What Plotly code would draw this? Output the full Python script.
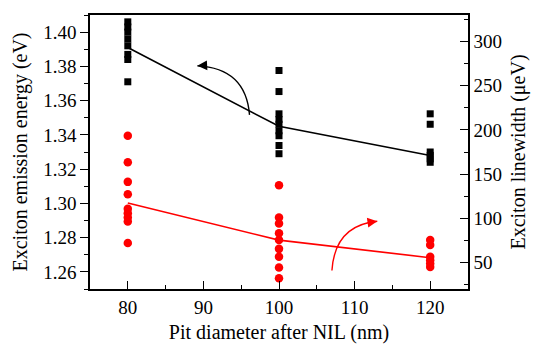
import plotly.graph_objects as go

# ---- data ----
pit_x = [80, 100, 120]
energy_80 = [1.406, 1.403, 1.400, 1.396, 1.392, 1.387, 1.384, 1.371]
energy_100 = [1.3776, 1.3653, 1.3523, 1.349, 1.3462, 1.3424, 1.3395, 1.3338, 1.329]
energy_120 = [1.3523, 1.3462, 1.330, 1.328, 1.326, 1.324]
energy_mean = [1.391, 1.345, 1.328]

width_80 = [193.3, 163.4, 141.2, 127.1, 110.8, 105.8, 100.8, 96.4, 72.0]
width_100 = [137.4, 100.8, 94.2, 83.1, 75.4, 65.4, 56.5, 44.4, 32.2]
width_120 = [75.4, 69.8, 56.5, 52.6, 48.8, 44.9]
width_mean = [117.4, 75.3, 55.4]

x_ticks = [80, 90, 100, 110, 120]
left_ticks = [1.26, 1.28, 1.30, 1.32, 1.34, 1.36, 1.38, 1.40]
right_ticks = [50, 100, 150, 200, 250, 300]

FONT = "'Liberation Serif', 'Times New Roman', Times, serif"

ex = [pit_x[0]] * len(energy_80) + [pit_x[1]] * len(energy_100) + [pit_x[2]] * len(energy_120)
ey = energy_80 + energy_100 + energy_120
wx = [pit_x[0]] * len(width_80) + [pit_x[1]] * len(width_100) + [pit_x[2]] * len(width_120)
wy = width_80 + width_100 + width_120

fig = go.Figure()
fig.add_trace(go.Scatter(x=pit_x, y=energy_mean, mode="lines",
                         line=dict(color="black", width=1.6), yaxis="y", showlegend=False))
fig.add_trace(go.Scatter(x=ex, y=ey, mode="markers",
                         marker=dict(symbol="square", size=7, color="black"),
                         yaxis="y", showlegend=False))
fig.add_trace(go.Scatter(x=pit_x, y=width_mean, mode="lines",
                         line=dict(color="#ff0000", width=1.6), yaxis="y2", showlegend=False))
fig.add_trace(go.Scatter(x=wx, y=wy, mode="markers",
                         marker=dict(symbol="circle", size=8.5, color="#ff0000"),
                         yaxis="y2", showlegend=False))

# curved arrows (decorations)
black_arrow = dict(tail=(96.1, 1.3517), ctrl=(95.6, 1.3790), head=(89.2, 1.3803))
red_arrow = dict(tail=(107.0, 41.0), ctrl=(107.4, 92.0), head=(113.0, 96.6))

def arc_path(a):
    (x0, y0), (cx, cy), (x1, y1) = a["tail"], a["ctrl"], a["head"]
    return f"M {x0},{y0} Q {cx},{cy} {x1},{y1}"

fig.add_shape(type="path", path=arc_path(black_arrow), xref="x", yref="y",
              line=dict(color="black", width=1.4))
fig.add_shape(type="path", path=arc_path(red_arrow), xref="x", yref="y2",
              line=dict(color="#ff0000", width=1.4))

fig.add_annotation(x=black_arrow["head"][0], y=black_arrow["head"][1],
                   ax=black_arrow["head"][0] + 1.2, ay=black_arrow["head"][1] + 0.0003,
                   xref="x", yref="y", axref="x", ayref="y", text="",
                   showarrow=True, arrowhead=2, arrowsize=1.4, arrowwidth=1.4, arrowcolor="black")
fig.add_annotation(x=red_arrow["head"][0], y=red_arrow["head"][1],
                   ax=red_arrow["head"][0] - 1.2, ay=red_arrow["head"][1] - 1.5,
                   xref="x", yref="y2", axref="x", ayref="y2", text="",
                   showarrow=True, arrowhead=2, arrowsize=1.4, arrowwidth=1.4, arrowcolor="#ff0000")

tickfont = dict(family=FONT, size=19, color="black")
titlefont = dict(family=FONT, size=20, color="black")

fig.update_layout(
    width=538, height=352,
    margin=dict(l=90, r=69, t=15, b=57),
    paper_bgcolor="white", plot_bgcolor="white",
    font=dict(family=FONT, color="black"),
    xaxis=dict(range=[75, 125], tickvals=x_ticks, ticks="inside", ticklen=8, tickwidth=1.3,
               tickcolor="black", showline=True, linecolor="black", linewidth=1.5, mirror=True,
               showgrid=False, zeroline=False, tickfont=tickfont,
               minor=dict(dtick=5, tick0=75, ticks="inside", ticklen=4, tickcolor="black", showgrid=False),
               title=dict(text="Pit diameter after NIL (nm)", font=titlefont, standoff=8)),
    yaxis=dict(range=[1.25, 1.41], tickvals=left_ticks, tickformat=".2f", ticks="outside", ticklen=8,
               tickwidth=1.3, tickcolor="black", showline=True, linecolor="black", linewidth=1.5,
               showgrid=False, zeroline=False, tickfont=tickfont,
               minor=dict(dtick=0.01, tick0=1.25, ticks="outside", ticklen=4, tickcolor="black", showgrid=False),
               title=dict(text="Exciton emission energy (eV)", font=titlefont, standoff=10)),
    yaxis2=dict(range=[20, 330], tickvals=right_ticks, overlaying="y", side="right", ticks="inside",
                ticklen=8, tickwidth=1.3, tickcolor="black", showline=True, linecolor="black",
                linewidth=1.5, showgrid=False, zeroline=False, tickfont=tickfont,
                minor=dict(dtick=25, tick0=25, ticks="inside", ticklen=4, tickcolor="black", showgrid=False),
                title=dict(text="Exciton linewidth (μeV)", font=titlefont, standoff=10)),
)

fig.write_html("out.html")
